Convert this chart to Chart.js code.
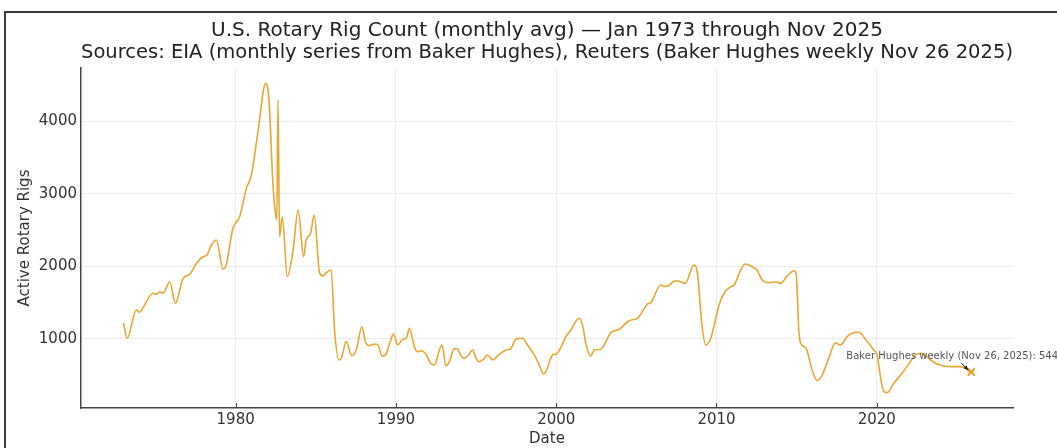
<!DOCTYPE html>
<html>
<head>
<meta charset="utf-8">
<script src="https://cdn.jsdelivr.net/npm/chart.js@4/dist/chart.umd.min.js"></script>
<style>
  html, body { margin: 0; padding: 0; background: #fff; overflow: hidden; }
  #wrap { position: relative; width: 1057px; height: 448px; }
  #frame { position: absolute; left: 4px; top: 11px; width: 1100px; height: 500px;
           border-left: 2px solid #3a3a3a; border-top: 2px solid #3a3a3a; }
  canvas { position: absolute; left: 0; top: 0; }
</style>
</head>
<body>
<div id="wrap">
  <div id="frame"></div>
  <canvas id="c" width="1057" height="448"></canvas>
</div>
<script>
// ---- Data (decimal year, monthly-average rig count) ----
const years = [
  1973.00,1973.23,1973.80,1974.00,1974.20,1974.85,1975.06,1975.27,1975.47,1975.89,
  1976.24,1976.72,1977.13,1977.55,1977.96,1978.17,1978.49,1978.80,1979.21,1979.38,
  1979.83,1980.25,1980.67,1980.98,1981.39,1981.87,1982.07,1982.33,1982.47,1982.57,
  1982.64,1982.74,1982.91,1983.22,1983.57,1983.90,1984.24,1984.40,1984.67,1984.90,
  1985.23,1985.44,1985.65,1985.96,1986.17,1986.44,1986.59,1986.90,1987.25,1987.52,
  1987.88,1988.10,1988.35,1988.66,1988.87,1989.14,1989.35,1989.64,1989.85,1990.11,
  1990.42,1990.64,1990.84,1991.15,1991.36,1991.57,1991.88,1992.15,1992.40,1992.71,
  1992.88,1993.12,1993.33,1993.64,1993.85,1994.06,1994.27,1994.54,1994.79,1995.00,
  1995.20,1995.41,1995.72,1996.03,1996.45,1996.87,1997.18,1997.49,1997.90,1998.21,
  1998.63,1998.94,1999.21,1999.36,1999.77,2000.02,2000.36,2000.60,2000.91,2001.43,
  2001.64,2001.89,2002.16,2002.37,2002.79,2002.99,2003.41,2003.93,2004.55,2005.07,
  2005.70,2005.90,2006.52,2006.84,2007.46,2007.77,2008.04,2008.60,2008.80,2009.08,
  2009.33,2009.64,2010.16,2010.47,2010.89,2011.10,2011.51,2011.78,2012.28,2012.49,
  2012.86,2013.27,2013.69,2014.00,2014.41,2014.83,2014.97,2015.14,2015.31,2015.56,
  2015.97,2016.28,2016.60,2017.00,2017.42,2017.73,2018.15,2018.46,2018.88,2019.33,
  2019.81,2020.02,2020.23,2020.44,2020.65,2021.06,2021.58,2022.10,2022.41,2022.83,
  2023.24,2023.66,2024.18,2024.69,2025.21,2025.53,2025.77,2025.83
];
const rigs = [
  1220,1010,1400,1367,1422,1629,1615,1651,1629,1788,
  1491,1835,1890,2041,2133,2146,2293,2362,1963,1995,
  2523,2683,3074,3257,3852,4518,4312,3119,2752,2637,
  4289,2408,2683,1857,2201,2775,2133,2362,2454,2706,
  1915,1867,1912,1949,1124,711,734,963,770,849,
  1169,963,908,931,917,766,780,963,1069,917,
  996,1010,1147,894,825,839,789,666,642,849,
  917,628,687,867,862,766,734,780,849,734,
  687,711,780,711,789,849,871,996,1010,917,
  780,642,518,550,780,794,917,1032,1124,1285,
  1193,894,766,849,858,917,1087,1133,1252,1285,
  1482,1500,1743,1720,1802,1788,1766,2018,1926,1216,
  917,1010,1468,1629,1720,1743,1949,2032,1987,1959,
  1812,1775,1788,1766,1867,1940,1904,1100,917,885,
  573,426,505,734,949,917,1032,1078,1092,986,
  849,780,481,275,261,390,528,688,780,803,
  734,666,628,619,619,597,550,548
];
const bhDate = 2025.90;
const bhValue = 544;
const bhLabel = 'Baker Hughes weekly (Nov 26, 2025): 544';
const xTicks = [1980, 1990, 2000, 2010, 2020];
const yTicks = [1000, 2000, 3000, 4000];
const titleLines = [
  'U.S. Rotary Rig Count (monthly avg) \u2014 Jan 1973 through Nov 2025',
  'Sources: EIA (monthly series from Baker Hughes), Reuters (Baker Hughes weekly Nov 26 2025)'
];

const lineColor = '#E9A630';
const FONT = "'DejaVu Sans', sans-serif";

const points = years.map((x, i) => ({ x: x, y: rigs[i] }));

const annotPlugin = {
  id: 'annot',
  afterDatasetsDraw(chart) {
    const { ctx, scales: { x, y }, chartArea } = chart;
    // inward x tick marks
    ctx.save();
    ctx.strokeStyle = '#444';
    ctx.lineWidth = 1;
    xTicks.forEach(v => {
      const px = Math.round(x.getPixelForValue(v)) + 0.5;
      ctx.beginPath();
      ctx.moveTo(px, chartArea.bottom);
      ctx.lineTo(px, chartArea.bottom - 5);
      ctx.stroke();
    });
    // annotation text + arrow
    const px = x.getPixelForValue(bhDate);
    const py = y.getPixelForValue(bhValue);
    ctx.font = '10px ' + FONT;
    ctx.fillStyle = '#555';
    ctx.textAlign = 'left';
    ctx.textBaseline = 'middle';
    ctx.fillText(bhLabel, px - 125, py - 16);
    // arrow
    const sx = px - 10, sy = py - 9, ex = px - 3, ey = py - 2;
    ctx.strokeStyle = '#111';
    ctx.fillStyle = '#111';
    ctx.lineWidth = 1;
    ctx.beginPath();
    ctx.moveTo(sx, sy);
    ctx.lineTo(ex, ey);
    ctx.stroke();
    const ang = Math.atan2(ey - sy, ex - sx);
    ctx.beginPath();
    ctx.moveTo(ex, ey);
    ctx.lineTo(ex - 5 * Math.cos(ang - 0.4), ey - 5 * Math.sin(ang - 0.4));
    ctx.lineTo(ex - 5 * Math.cos(ang + 0.4), ey - 5 * Math.sin(ang + 0.4));
    ctx.closePath();
    ctx.fill();
    ctx.restore();
  }
};

new Chart(document.getElementById('c'), {
  type: 'line',
  data: {
    datasets: [
      {
        data: points,
        borderColor: lineColor,
        borderWidth: 1.6,
        pointRadius: 0,
        cubicInterpolationMode: 'monotone',
        fill: false
      },
      {
        type: 'scatter',
        data: [{ x: bhDate, y: bhValue }],
        pointStyle: 'crossRot',
        pointRadius: 5,
        borderColor: '#E89C1C',
        backgroundColor: '#E89C1C',
        pointBorderWidth: 2,
        borderWidth: 2
      }
    ]
  },
  options: {
    responsive: false,
    animation: false,
    devicePixelRatio: 1,
    layout: { padding: { left: 0, right: 44, top: 0, bottom: 0 } },
    plugins: {
      legend: { display: false },
      tooltip: { enabled: false },
      title: {
        display: true,
        fullSize: false,
        text: titleLines,
        color: '#222',
        font: { family: FONT, size: 20, weight: 'normal', lineHeight: 1.1 },
        padding: { top: 20, bottom: 4 }
      }
    },
    scales: {
      x: {
        type: 'linear',
        min: 1970.35,
        max: 2028.5,
        afterBuildTicks: s => { s.ticks = xTicks.map(v => ({ value: v })); },
        afterFit: s => { s.height = 40; },
        grid: { color: '#ececec', lineWidth: 1, drawTicks: false },
        border: { display: true, color: '#444', width: 1.5 },
        ticks: {
          color: '#333',
          font: { family: FONT, size: 15 },
          padding: 3,
          maxRotation: 0,
          callback: v => String(v)
        },
        title: {
          display: true, text: 'Date', color: '#333',
          font: { family: FONT, size: 15, lineHeight: 1.2 },
          padding: { top: 0, bottom: 0 }
        }
      },
      y: {
        type: 'linear',
        min: 50,
        max: 4730,
        afterBuildTicks: s => { s.ticks = yTicks.map(v => ({ value: v })); },
        afterFit: s => { s.width = 81; },
        grid: { color: '#ececec', lineWidth: 1, drawTicks: false },
        border: { display: true, color: '#444', width: 1.5 },
        ticks: {
          color: '#333',
          font: { family: FONT, size: 15 },
          padding: 4,
          callback: v => String(v)
        },
        title: {
          display: true, text: 'Active Rotary Rigs', color: '#333',
          font: { family: FONT, size: 15, lineHeight: 1.2 },
          padding: { top: 16, bottom: 0 }
        }
      }
    }
  },
  plugins: [annotPlugin]
});
</script>
</body>
</html>
